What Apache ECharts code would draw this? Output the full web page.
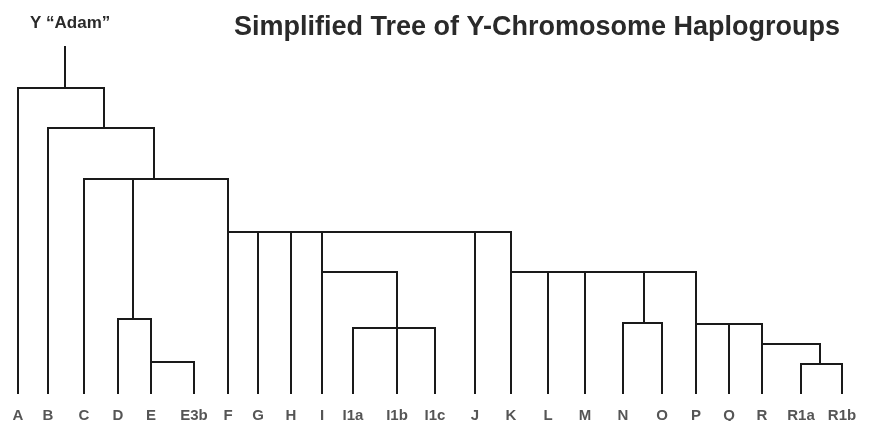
<!DOCTYPE html>
<html>
<head>
<meta charset="utf-8">
<script src="https://cdn.jsdelivr.net/npm/echarts@6/dist/echarts.min.js"></script>
<style>
  html, body { margin: 0; padding: 0; background: #fff; }
  #chart { width: 870px; height: 421px; }
</style>
</head>
<body>
<div id="chart"></div>
<script>
// leaves of the tree, left to right
const leaves = ['A', 'B', 'C', 'D', 'E', 'E3b', 'F', 'G', 'H', 'I', 'I1a', 'I1b', 'I1c',
  'J', 'K', 'L', 'M', 'N', 'O', 'P', 'Q', 'R', 'R1a', 'R1b'];
const leafX = [18, 48, 84, 118, 151, 194, 228, 258, 291, 322, 353, 397, 435,
  475, 511, 548, 585, 623, 662, 696, 729, 762, 801, 842];
// height at which each leaf joins its branch
const leafTop = [88, 128, 179, 319, 319, 362, 179, 232, 232, 232, 328, 272, 328,
  232, 232, 272, 272, 323, 323, 272, 324, 324, 364, 364];
const leafBottom = 393;

// horizontal branch bars: height, left end, right end
const barY = [88, 128, 179, 319, 362, 232, 272, 328, 272, 323, 324, 344, 364];
const barX0 = [18, 48, 84, 118, 151, 228, 322, 353, 511, 623, 696, 762, 801];
const barX1 = [104, 154, 228, 151, 194, 511, 397, 435, 696, 662, 762, 820, 842];

// vertical stems linking bars: x, top, bottom
const stemX = [65, 104, 154, 133, 644, 820];
const stemY0 = [47, 88, 128, 179, 272, 344];
const stemY1 = [88, 128, 179, 319, 323, 364];

const segments = [];
leaves.forEach((name, i) => segments.push([leafX[i], leafTop[i], leafX[i], leafBottom]));
barY.forEach((y, i) => segments.push([barX0[i], y, barX1[i], y]));
stemX.forEach((x, i) => segments.push([x, stemY0[i], x, stemY1[i]]));

const chart = echarts.init(document.getElementById('chart'), null, { renderer: 'canvas' });
chart.setOption({
  backgroundColor: '#fff',
  animation: false,
  title: [
    {
      text: 'Simplified Tree of Y-Chromosome Haplogroups',
      left: 229, top: 9,
      textStyle: { fontFamily: 'Liberation Sans', fontSize: 27, fontWeight: 'bold', color: '#2a2a2a' }
    },
    {
      text: 'Y \u201cAdam\u201d',
      left: 25, top: 10,
      textStyle: { fontFamily: 'Liberation Sans', fontSize: 17, fontWeight: 'bold', color: '#2a2a2a' }
    }
  ],
  grid: { left: 0, right: 0, top: 0, bottom: 0 },
  xAxis: { type: 'value', min: 0, max: 870, show: false },
  yAxis: { type: 'value', min: 0, max: 421, inverse: true, show: false },
  series: [
    {
      type: 'custom',
      data: segments,
      renderItem: (params, api) => {
        const p0 = api.coord([api.value(0), api.value(1)]);
        const p1 = api.coord([api.value(2), api.value(3)]);
        return {
          type: 'line',
          shape: { x1: p0[0], y1: p0[1], x2: p1[0], y2: p1[1] },
          style: { stroke: '#1a1a1a', lineWidth: 2, lineCap: 'square' }
        };
      }
    },
    {
      type: 'scatter',
      symbolSize: 0,
      data: leaves.map((name, i) => ({ name: name, value: [leafX[i], 416] })),
      label: {
        show: true,
        position: 'inside',
        formatter: '{b}',
        fontFamily: 'Liberation Sans',
        fontSize: 15,
        fontWeight: 'bold',
        color: '#2a2a2a'
      }
    }
  ]
});
</script>
</body>
</html>
